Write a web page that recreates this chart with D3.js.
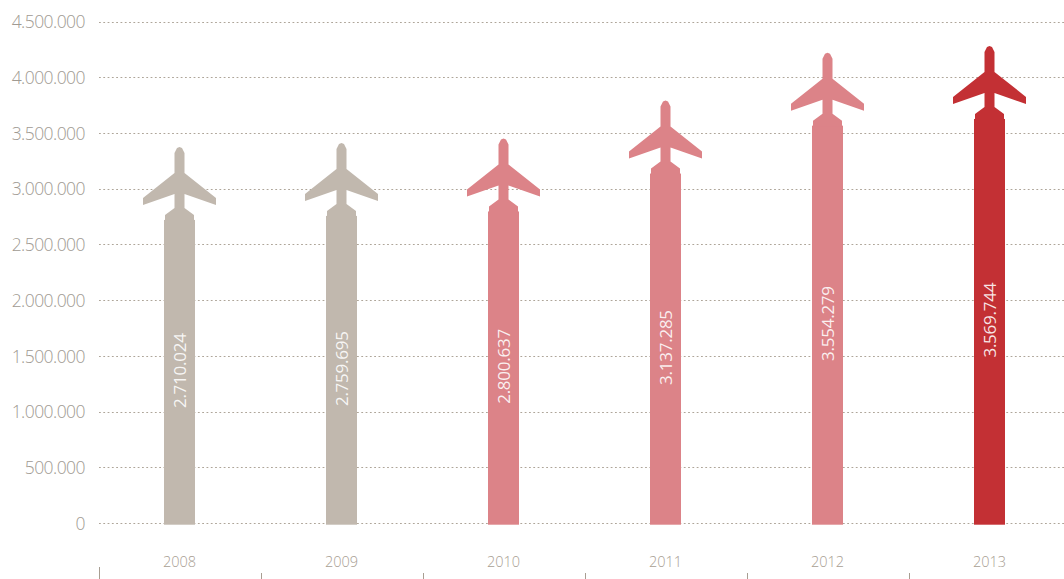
<!DOCTYPE html>
<html><head><meta charset="utf-8">
<script src="https://cdn.jsdelivr.net/npm/d3@7"></script>
<style>html,body{margin:0;padding:0;background:#fff}svg{display:block}
text{font-family:"Open Sans",sans-serif;font-weight:300}</style></head>
<body><svg id="c" width="1064" height="579"></svg>
<script>
const years=["2008","2009","2010","2011","2012","2013"];
const labels=["2.710.024","2.759.695","2.800.637","3.137.285","3.554.279","3.569.744"];
const values=[2724000,2760000,2800000,3140000,3570000,3630000];
const colorNames=["beige","beige","pink","pink","pink","red"];
const palette={beige:"#c1b8ae",pink:"#dc8388",red:"#c33034"};
const yTicks=[0,500000,1000000,1500000,2000000,2500000,3000000,3500000,4000000,4500000];
const fmt=d=>d3.format(",")(d).replace(/,/g,".");
const svg=d3.select("#c");
const y=d3.scaleLinear().domain([0,4500000]).range([523.5,22]);
const x=d3.scaleBand().domain(years).range([99,1071]);
const barW=31;
const gy=svg.append("g");
gy.selectAll("line").data(yTicks).join("line")
 .attr("x1",99).attr("x2",1064).attr("y1",d=>Math.round(y(d)-0.5)+0.5).attr("y2",d=>Math.round(y(d)-0.5)+0.5)
 .attr("stroke","#aea599").attr("stroke-width",1).attr("stroke-dasharray","1.8 2.5");
gy.selectAll("text").data(yTicks).join("text")
 .attr("x",85).attr("y",d=>y(d)+6.3).attr("text-anchor","end")
 .attr("font-size",17.5).attr("letter-spacing",-0.55).attr("fill","#a09a92").text(fmt);
const plane=t=>{
 const p=[[0,-73],[2.5,-72],[5,-67],[5,-47],[36.5,-22],[36.5,-15],[5,-26],[5,-12],[14.5,-5],[14.5,1],
          [-14.5,1],[-14.5,-5],[-5,-12],[-5,-26],[-36.5,-15],[-36.5,-22],[-5,-47],[-5,-67],[-2.5,-72]];
 return d3.line()(p.map(q=>[q[0],q[1]+t]))+"Z";
};
const g=svg.append("g").selectAll("g").data(years).join("g")
 .attr("transform",d=>`translate(${x(d)+x.bandwidth()/2-0.5},0)`);
g.append("rect").attr("x",-barW/2).attr("width",barW)
 .attr("y",(d,i)=>y(values[i])).attr("height",(d,i)=>y(0)-y(values[i])+1.2)
 .attr("fill",(d,i)=>palette[colorNames[i]]);
g.append("path").attr("d",(d,i)=>plane(y(values[i]))).attr("fill",(d,i)=>palette[colorNames[i]]);
g.append("text").attr("transform",(d,i)=>`translate(6,${(y(values[i])+y(0))/2-1}) rotate(-90)`)
 .attr("text-anchor","middle").attr("font-size",17).attr("letter-spacing",-0.25).style("font-weight",400).attr("fill","#fff").attr("fill-opacity",0.88).text((d,i)=>labels[i]);
svg.append("g").selectAll("text").data(years).join("text")
 .attr("x",d=>x(d)+x.bandwidth()/2-0.5).attr("y",567).attr("text-anchor","middle")
 .attr("font-size",14.5).attr("fill","#a89e92").text(d=>d);
svg.append("g").selectAll("line").data(years).join("line")
 .attr("x1",d=>Math.round(x(d))+0.5).attr("x2",d=>Math.round(x(d))+0.5)
 .attr("y1",(d,i)=>i===0?567:573).attr("y2",579)
 .attr("stroke","#a89e92");
</script></body></html>
